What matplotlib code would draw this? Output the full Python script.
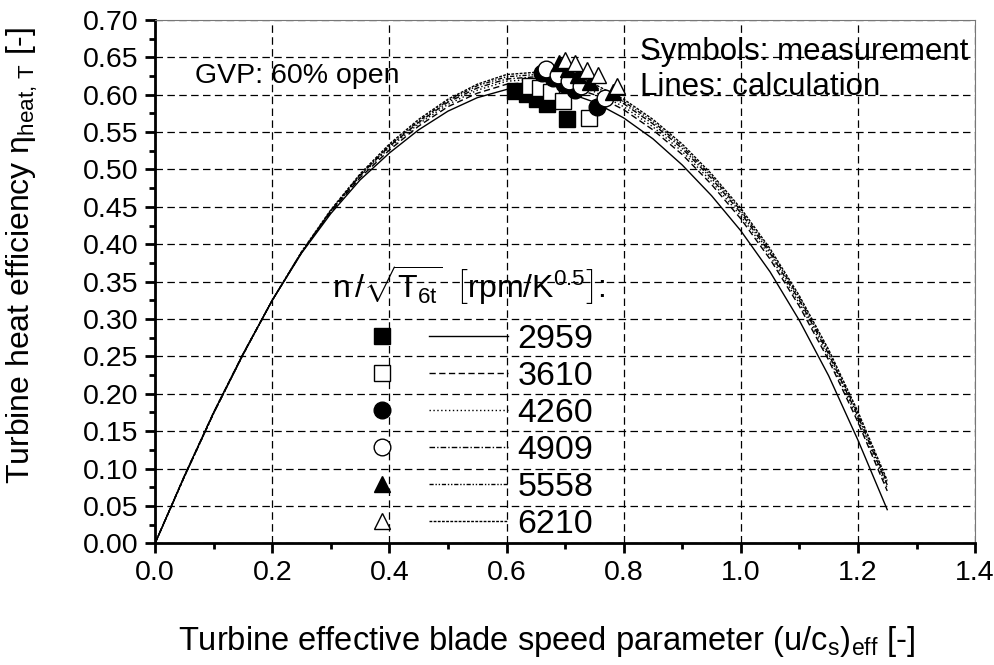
import matplotlib
matplotlib.use('Agg')
import matplotlib.pyplot as plt
from matplotlib.lines import Line2D
from matplotlib.legend_handler import HandlerBase
from matplotlib.ticker import MultipleLocator

plt.rcParams['font.family'] = 'Liberation Sans'
plt.rcParams['mathtext.fontset'] = 'custom'
plt.rcParams['mathtext.rm'] = 'Liberation Sans'
plt.rcParams['mathtext.it'] = 'Liberation Sans:italic'
plt.rcParams['mathtext.bf'] = 'Liberation Sans:bold'

# reduced speed n/sqrt(T6t) [rpm/K^0.5]
speeds = ['2959', '3610', '4260', '4909', '5558', '6210']

# calculation (lines)
x_calc = [0.00, 0.05, 0.10, 0.15, 0.20, 0.25, 0.30, 0.35, 0.40, 0.45, 0.50, 0.55, 0.60,
          0.65, 0.70, 0.75, 0.80, 0.85, 0.90, 0.95, 1.00, 1.05, 1.10, 1.15, 1.20, 1.25]
eta_2959 = [0.000, 0.090, 0.175, 0.253, 0.325, 0.388, 0.441, 0.486, 0.522, 0.553, 0.578, 0.596, 0.607,
            0.609, 0.604, 0.590, 0.569, 0.541, 0.506, 0.465, 0.418, 0.363, 0.298, 0.224, 0.138, 0.045]
eta_3610 = [0.000, 0.090, 0.175, 0.253, 0.325, 0.389, 0.443, 0.489, 0.526, 0.558, 0.584, 0.602, 0.614,
            0.617, 0.613, 0.600, 0.580, 0.553, 0.520, 0.480, 0.434, 0.380, 0.317, 0.245, 0.162, 0.070]
eta_4260 = [0.000, 0.090, 0.175, 0.253, 0.325, 0.389, 0.444, 0.491, 0.529, 0.561, 0.587, 0.606, 0.618,
            0.621, 0.617, 0.604, 0.584, 0.557, 0.524, 0.484, 0.438, 0.384, 0.321, 0.249, 0.166, 0.074]
eta_4909 = [0.000, 0.089, 0.174, 0.252, 0.325, 0.389, 0.445, 0.492, 0.531, 0.563, 0.590, 0.609, 0.621,
            0.624, 0.620, 0.608, 0.588, 0.561, 0.528, 0.488, 0.442, 0.388, 0.325, 0.253, 0.170, 0.078]
eta_5558 = [0.000, 0.089, 0.174, 0.252, 0.325, 0.389, 0.445, 0.493, 0.532, 0.565, 0.592, 0.612, 0.624,
            0.627, 0.623, 0.611, 0.591, 0.564, 0.531, 0.491, 0.445, 0.391, 0.328, 0.256, 0.173, 0.081]
eta_6210 = [0.000, 0.089, 0.174, 0.252, 0.325, 0.390, 0.446, 0.494, 0.534, 0.567, 0.594, 0.614, 0.627,
            0.630, 0.626, 0.614, 0.594, 0.567, 0.534, 0.494, 0.448, 0.394, 0.331, 0.259, 0.176, 0.084]
calc = [eta_2959, eta_3610, eta_4260, eta_4909, eta_5558, eta_6210]

# measurement (symbols)
meas_x_2959 = [0.615, 0.635, 0.652, 0.669, 0.703]
meas_y_2959 = [0.605, 0.601, 0.594, 0.588, 0.567]
meas_x_3610 = [0.640, 0.657, 0.676, 0.697, 0.740]
meas_y_3610 = [0.612, 0.609, 0.604, 0.592, 0.569]
meas_x_4260 = [0.660, 0.680, 0.698, 0.717, 0.754]
meas_y_4260 = [0.629, 0.622, 0.615, 0.606, 0.584]
meas_x_4909 = [0.668, 0.688, 0.707, 0.728, 0.768]
meas_y_4909 = [0.634, 0.627, 0.619, 0.611, 0.596]
meas_x_5558 = [0.690, 0.705, 0.722, 0.742, 0.782]
meas_y_5558 = [0.643, 0.635, 0.626, 0.617, 0.603]
meas_x_6210 = [0.700, 0.717, 0.737, 0.757, 0.789]
meas_y_6210 = [0.646, 0.642, 0.633, 0.627, 0.612]
meas = [(meas_x_2959, meas_y_2959), (meas_x_3610, meas_y_3610), (meas_x_4260, meas_y_4260),
        (meas_x_4909, meas_y_4909), (meas_x_5558, meas_y_5558), (meas_x_6210, meas_y_6210)]

markers = ['s', 's', 'o', 'o', '^', '^']
faces = ['black', 'white', 'black', 'white', 'black', 'white']
styles = ['-', (0, (4.5, 2.5)), (0, (1, 1.8)), (0, (4, 1.5, 1, 1.5)),
          (0, (3, 1.3, 1, 1.3, 1, 1.3)), (0, (2, 1))]


class MarkerLineHandler(HandlerBase):
    # marker on the left, line on the right, like the original key
    def create_artists(self, legend, orig_handle, xdescent, ydescent, width, height, fontsize, trans):
        mk, ln = orig_handle
        y = height / 2 - ydescent
        m = Line2D([0.15 * width - xdescent], [y])
        m.update_from(mk)
        m.set_transform(trans)
        l = Line2D([0.46 * width - xdescent, 0.97 * width - xdescent], [y, y])
        l.update_from(ln)
        l.set_transform(trans)
        return [m, l]


fig = plt.figure(figsize=(9.94, 6.65), dpi=100)
ax = fig.add_axes([0.156, 0.183, 0.825, 0.787])

handles = []
for i in range(6):
    ln, = ax.plot(x_calc, calc[i], color='black', linewidth=1.0, linestyle=styles[i], zorder=3)
    mk, = ax.plot(meas[i][0], meas[i][1], linestyle='none', marker=markers[i], markersize=12,
                  markerfacecolor=faces[i], markeredgecolor='black', markeredgewidth=1.0, zorder=4)
    handles.append((mk, ln))

ax.set_xlim(0, 1.4)
ax.set_ylim(0, 0.70)
ax.xaxis.set_major_locator(MultipleLocator(0.2))
ax.xaxis.set_minor_locator(MultipleLocator(0.1))
ax.yaxis.set_major_locator(MultipleLocator(0.05))
ax.yaxis.set_minor_locator(MultipleLocator(0.025))
ax.xaxis.set_major_formatter(lambda v, p: f'{v:.1f}')
ax.yaxis.set_major_formatter(lambda v, p: f'{v:.2f}')

ax.grid(True, which='major', color='black', linestyle=(0, (6, 3.5)), linewidth=0.9)
for s in ['top', 'right']:
    ax.spines[s].set_color('#777777')
    ax.spines[s].set_linewidth(0.8)
for s in ['left', 'bottom']:
    ax.spines[s].set_linewidth(2.0)
ax.tick_params(which='major', direction='out', length=7, width=2, labelsize=20.5, pad=5)
ax.tick_params(which='minor', direction='out', length=4, width=2)

ax.set_xlabel(r'Turbine effective blade speed parameter (u/c$_{\mathrm{s}}$)$_{\mathrm{eff}}$ [-]', fontsize=23.5)
ax.set_ylabel(r'Turbine heat efficiency η$_{\mathrm{heat,\,T}}$ [-]', fontsize=23)
ax.xaxis.label.set_va('center')
ax.yaxis.label.set_va('center')
ax.xaxis.set_label_coords(0.477, -0.188)
ax.yaxis.set_label_coords(-0.162, 0.55)

ax.text(0.068, 0.625, 'GVP: 60% open', fontsize=20.5, va='center', ha='left')
ax.text(0.828, 0.657, 'Symbols: measurement', fontsize=22.5, va='center', ha='left')
ax.text(0.828, 0.610, 'Lines: calculation', fontsize=22.5, va='center', ha='left')

# key header
ax.text(0.216, 0.493, r'$\mathrm{n}\,/\sqrt{\mathrm{T}_{\mathrm{6t}}}\;\;\left[\mathrm{rpm/K}^{0.5}\right]$:',
        transform=ax.transAxes, fontsize=23, va='center', ha='left')

leg = ax.legend(handles, speeds, handler_map={tuple: MarkerLineHandler()},
                fontsize=24.5, frameon=False, loc='upper left',
                bbox_to_anchor=(0.228, 0.452), borderpad=0, handlelength=4.5,
                handletextpad=0.15, labelspacing=0.18)

fig.savefig('out.png', dpi=100)
